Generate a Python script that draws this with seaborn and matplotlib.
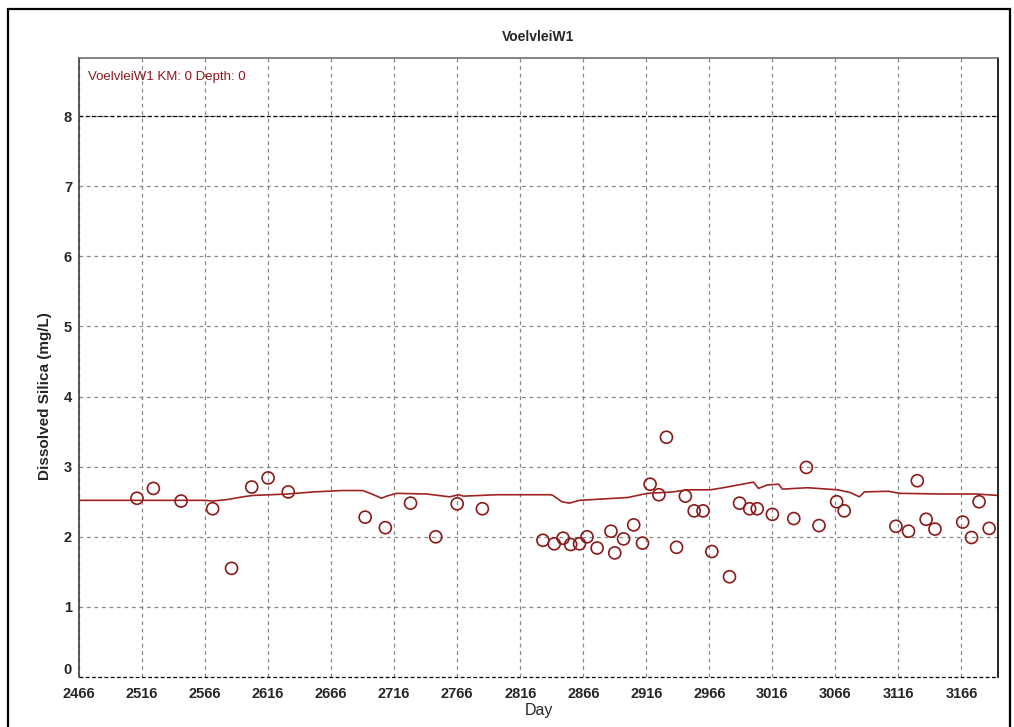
import numpy as np
import pandas as pd
import matplotlib
matplotlib.use("Agg")
import matplotlib.pyplot as plt
from matplotlib.patches import Rectangle
import seaborn as sns

# Observed dissolved silica (day, mg/L)
obs_day = [2512, 2525, 2547, 2572, 2587, 2603, 2616, 2632, 2693, 2709,
           2729, 2749, 2766, 2786, 2834, 2843, 2850, 2856, 2863, 2869,
           2877, 2888, 2891, 2898, 2906, 2913, 2919, 2926, 2932, 2940,
           2947, 2954, 2961, 2968, 2982, 2990, 2998, 3004, 3016, 3033,
           3043, 3053, 3067, 3073, 3114, 3124, 3131, 3138, 3145, 3167,
           3174, 3180, 3188]
obs_val = [2.55, 2.69, 2.51, 2.40, 1.55, 2.71, 2.84, 2.64, 2.28, 2.13,
           2.48, 2.00, 2.47, 2.40, 1.95, 1.90, 1.98, 1.89, 1.90, 2.00,
           1.84, 2.08, 1.77, 1.97, 2.17, 1.91, 2.75, 2.60, 3.42, 1.85,
           2.58, 2.37, 2.37, 1.79, 1.43, 2.48, 2.40, 2.40, 2.32, 2.26,
           2.99, 2.16, 2.50, 2.37, 2.15, 2.08, 2.80, 2.25, 2.11, 2.21,
           1.99, 2.50, 2.12]

# Simulated dissolved silica
model_day = [2466, 2498, 2566, 2572, 2583, 2596, 2604, 2618, 2631, 2652,
             2675, 2691, 2697, 2706, 2710, 2718, 2742, 2760, 2767, 2771,
             2798, 2840, 2842, 2849, 2855, 2863, 2882, 2901, 2917, 2937,
             2948, 2967, 2977, 3001, 3005, 3012, 3021, 3024, 3044, 3068,
             3078, 3085, 3089, 3108, 3117, 3151, 3178, 3195]
model_val = [2.52, 2.52, 2.52, 2.51, 2.53, 2.57, 2.59, 2.60, 2.61, 2.64,
             2.66, 2.66, 2.62, 2.55, 2.58, 2.62, 2.61, 2.57, 2.60, 2.58,
             2.60, 2.60, 2.59, 2.50, 2.48, 2.52, 2.54, 2.56, 2.62, 2.64,
             2.67, 2.67, 2.70, 2.78, 2.69, 2.74, 2.75, 2.68, 2.70, 2.67,
             2.63, 2.57, 2.64, 2.65, 2.62, 2.61, 2.61, 2.59]

x_ticks = list(range(2466, 3167, 50))
y_ticks = list(range(0, 9))

sns.set_style("white")
plt.rcParams['font.family'] = ['Liberation Sans', 'DejaVu Sans']

fig = plt.figure(figsize=(10.14, 7.27), dpi=100)
ax = fig.add_axes([79 / 1014, 50 / 727, 919 / 1014, 619 / 727])

red = '#9e2424'
sns.lineplot(x=model_day, y=model_val, ax=ax, color=red, linewidth=1.2)
sns.scatterplot(x=obs_day, y=obs_val, ax=ax, s=75, color=red)
pts = ax.collections[-1]
pts.set_facecolor('none')
pts.set_edgecolor('#8b1a1a')
pts.set_linewidth(1.2)

ax.set_xlim(2466, 3195)
ax.set_ylim(0, 8.83)
ax.set_xticks(x_ticks)
ax.set_yticks(y_ticks)
ax.set_xticklabels([str(t) for t in x_ticks], fontsize=10.5, fontweight='bold')
ax.set_yticklabels([str(t) for t in y_ticks], fontsize=10.5, fontweight='bold')
ax.tick_params(axis='both', direction='out', length=3, width=0.8,
               color='#404040')
ax.tick_params(axis='x', pad=4)
ax.tick_params(axis='y', pad=2)
for lbl in ax.get_yticklabels():
    if lbl.get_text() == '0':
        lbl.set_va('bottom')

ax.grid(True, color='#888888', linestyle=(0, (3, 3)), linewidth=0.9)
for yy in [0, 8]:
    ax.axhline(yy, color='black', linestyle=(0, (3, 2)), linewidth=0.9,
               zorder=1, clip_on=False)

ax.spines['bottom'].set_visible(False)
ax.spines['left'].set_color('#404040')
ax.spines['top'].set_color('#707070')
ax.spines['right'].set_color('black')
for s in ax.spines.values():
    s.set_linewidth(1.2)

ax.set_xlabel('Day', fontsize=11.5, labelpad=2)
ax.set_ylabel('Dissolved Silica (mg/L)', fontsize=11, fontweight='bold')
ax.yaxis.set_label_coords(-0.029, 0.454)

ax.text(0.0098, 0.969, 'VoelvleiW1 KM: 0 Depth: 0', transform=ax.transAxes,
        ha='left', va='center', fontsize=9.5, color='#8b1a1a')

fig.text(538 / 1014, 1 - 37 / 727, 'VoelvleiW1', ha='center', va='center',
         fontsize=10, fontweight='bold')

fig.patches.append(Rectangle((8 / 1014, -0.05), 1002 / 1014, 1.05 - 9 / 727,
                             transform=fig.transFigure, fill=False,
                             edgecolor='black', linewidth=1.6))

fig.savefig('out.png', dpi=100)
